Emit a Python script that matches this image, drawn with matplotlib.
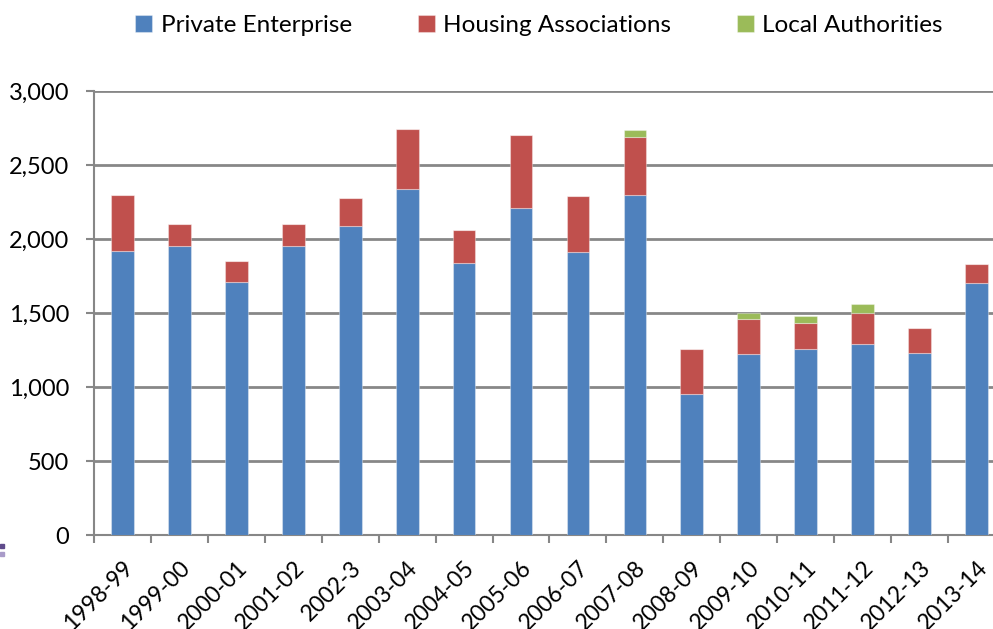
import numpy as np
import matplotlib.pyplot as plt
from matplotlib.patches import Rectangle
from matplotlib.ticker import FuncFormatter, FixedLocator

plt.rcParams['font.family'] = ['Lato', 'DejaVu Sans']

###### Data
years = ['1998-99', '1999-00', '2000-01', '2001-02', '2002-3', '2003-04', '2004-05', '2005-06',
         '2006-07', '2007-08', '2008-09', '2009-10', '2010-11', '2011-12', '2012-13', '2013-14']
private_enterprise = [1920, 1950, 1710, 1950, 2090, 2340, 1840, 2210,
                      1910, 2300, 950, 1220, 1260, 1290, 1230, 1700]
housing_associations = [380, 150, 140, 150, 190, 400, 220, 490,
                        380, 390, 310, 240, 170, 210, 170, 130]
local_authorities = [0, 0, 0, 0, 0, 0, 0, 0,
                     0, 45, 0, 40, 50, 60, 0, 0]

colors = {'private': '#4F81BD', 'housing': '#C0504D', 'local': '#9BBB59'}
grid_col = '#878787'

###### Plot
fig = plt.figure(figsize=(9.93, 6.29), dpi=100)
ax = fig.add_axes([0.0947, 0.1494, 0.9053, 0.7059])

x = np.arange(len(years))
pe = np.array(private_enterprise)
ha = np.array(housing_associations)
la = np.array(local_authorities)

bar_kw = {'width': 0.4, 'edgecolor': (1, 1, 1, 0.35), 'linewidth': 0.8, 'zorder': 3}
ax.bar(x, pe, color=colors['private'], label='Private Enterprise', **bar_kw)
ax.bar(x, ha, bottom=pe, color=colors['housing'], label='Housing Associations', **bar_kw)
ax.bar(x, la, bottom=pe + ha, color=colors['local'], label='Local Authorities', **bar_kw)

ax.set_ylim(0, 3000)
ax.set_xlim(-0.5, 15.29)
ax.set_yticks(np.arange(0, 3001, 500))
ax.yaxis.set_major_formatter(FuncFormatter(lambda v, p: '{:,.0f}'.format(v)))
ax.grid(axis='y', color=grid_col, linewidth=2, zorder=0)
ax.set_axisbelow(True)

# category labels centred on bars, tick marks between categories
ax.set_xticks(x)
ax.set_xticklabels(years, rotation=45, ha='right', va='top', rotation_mode='anchor')
ax.xaxis.set_minor_locator(FixedLocator(np.arange(-0.5, len(years), 1.0)))
ax.tick_params(axis='x', which='major', length=0, pad=16, labelsize=16.5)
ax.tick_params(axis='x', which='minor', length=6, width=1.5, color=grid_col, direction='out')
ax.tick_params(axis='y', length=6, width=1.5, color=grid_col, pad=12, labelsize=17)

for side in ['top', 'right']:
    ax.spines[side].set_visible(False)
for side in ['left', 'bottom']:
    ax.spines[side].set_color(grid_col)
    ax.spines[side].set_linewidth(1.5)

leg = fig.legend(loc='upper center', bbox_to_anchor=(0.543, 1.011), ncol=3, frameon=False,
                 fontsize=17.5, handlelength=0.7, handleheight=0.7, handletextpad=0.35,
                 columnspacing=2.7)

# small marker fragments at the left edge
fig.patches.append(Rectangle((0, 1 - 548 / 629), 4 / 993, 4 / 629, transform=fig.transFigure,
                             color='#5F4B8B', zorder=5))
fig.patches.append(Rectangle((0, 1 - 556 / 629), 4 / 993, 4 / 629, transform=fig.transFigure,
                             color='#A99BC9', zorder=5))

fig.savefig('out.png', dpi=100)
